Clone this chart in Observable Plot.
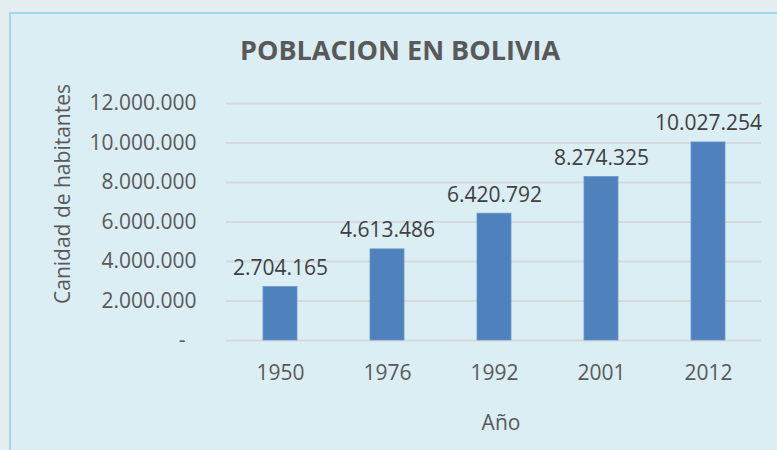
<!DOCTYPE html>
<html>
<head>
<meta charset="utf-8">
<script src="https://cdn.jsdelivr.net/npm/d3@7"></script>
<script src="https://cdn.jsdelivr.net/npm/@observablehq/plot@0.6"></script>
<style>
  html, body { margin: 0; padding: 0; }
  body { width: 777px; height: 450px; overflow: hidden; background: #E4EEF1; position: relative; font-family: "Open Sans", sans-serif; }
  #box { position: absolute; left: 9px; top: 12px; width: 820px; height: 500px; background: #DBEEF4; border: 2px solid #A3D6E6; box-sizing: border-box; }
  #chart { position: absolute; left: 0; top: 0; }
  .t { position: absolute; color: #595959; white-space: nowrap; }
  #title { left: 400px; top: 31px; transform: translateX(-50%); font-size: 27px; font-weight: bold; }
  #ylab { left: 62px; top: 194px; transform: translate(-50%, -50%) rotate(-90deg); font-size: 21px; }
  #xlab { left: 501px; top: 408px; transform: translateX(-50%); font-size: 21px; }
</style>
</head>
<body>
<div id="box"></div>
<div id="chart"></div>
<div class="t" id="title">POBLACION EN BOLIVIA</div>
<div class="t" id="ylab">Canidad de habitantes</div>
<div class="t" id="xlab">Año</div>
<script>
const years = ["1950", "1976", "1992", "2001", "2012"];
const population = [2704165, 4613486, 6420792, 8274325, 10027254];
const yTicks = [0, 2000000, 4000000, 6000000, 8000000, 10000000, 12000000];

const data = years.map((y, i) => ({year: y, value: population[i]}));
const fmt = d => d === 0 ? "-\u00a0\u00a0" : d3.format(",")(d).replace(/,/g, ".");

const chart = Plot.plot({
  width: 777,
  height: 450,
  marginLeft: 226,
  marginRight: 16,
  marginTop: 103,
  marginBottom: 110,
  style: {background: "transparent", fontFamily: "Open Sans, sans-serif", fontSize: "21px", color: "#595959"},
  x: {domain: years, paddingInner: 0.685, paddingOuter: 0.3425, label: null, tickSize: 0, tickPadding: 25},
  y: {domain: [0, 12000000], ticks: yTicks, tickFormat: fmt, label: null, tickSize: 0, tickPadding: 30},
  marks: [
    Plot.gridY(yTicks, {stroke: "#D5D9DB", strokeOpacity: 1, strokeWidth: 1.8}),
    Plot.barY(data, {x: "year", y: "value", fill: "#4F81BD", stroke: "#6C96C8", strokeWidth: 0.8}),
    Plot.text(data, {x: "year", y: "value", text: d => fmt(d.value), lineAnchor: "bottom", dy: -12, fill: "#404040", fontSize: 21})
  ]
});
document.getElementById("chart").appendChild(chart);
</script>
</body>
</html>
